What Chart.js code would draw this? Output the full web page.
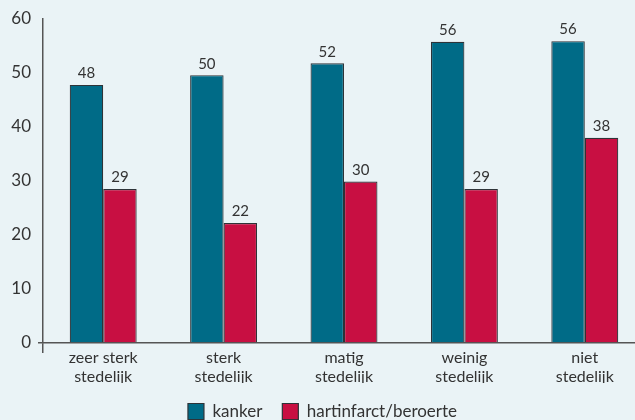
<!DOCTYPE html>
<html>
<head>
<meta charset="utf-8">
<script src="https://cdn.jsdelivr.net/npm/chart.js@4/dist/chart.umd.min.js"></script>
<style>
  html, body { margin: 0; padding: 0; background: #eaf3f6; overflow: hidden; }
  #wrap { width: 650px; height: 432px; position: relative; }
</style>
</head>
<body>
<div id="wrap"><canvas id="chart"></canvas></div>
<script>
const categories = [
  ["zeer sterk", "stedelijk"],
  ["sterk", "stedelijk"],
  ["matig", "stedelijk"],
  ["weinig", "stedelijk"],
  ["niet", "stedelijk"]
];
const kanker = [47.8, 49.6, 51.8, 55.8, 55.9];
const hartinfarct = [28.5, 22.2, 29.9, 28.5, 38.0];
const yTicks = [0, 10, 20, 30, 40, 50, 60];

const TEAL = "#006b87";
const RED = "#c80f42";
const INK = "#333333";
const AXIS = "#555555";
const FONT = "Lato, 'DejaVu Sans', sans-serif";

// draws the rounded value above each bar
const valueLabels = {
  id: "valueLabels",
  afterDatasetsDraw(chart) {
    const ctx = chart.ctx;
    ctx.save();
    ctx.font = "15px " + FONT;
    ctx.fillStyle = INK;
    ctx.textAlign = "center";
    ctx.textBaseline = "bottom";
    chart.data.datasets.forEach((ds, i) => {
      chart.getDatasetMeta(i).data.forEach((bar, j) => {
        ctx.fillText(Math.round(ds.data[j]), bar.x, bar.y - 4);
      });
    });
    ctx.restore();
  }
};

new Chart(document.getElementById("chart").getContext("2d"), {
  type: "bar",
  data: {
    labels: categories,
    datasets: [
      { label: "kanker", data: kanker, backgroundColor: TEAL, borderColor: "#2e3338", borderWidth: 1.2 },
      { label: "hartinfarct/beroerte", data: hartinfarct, backgroundColor: RED, borderColor: "#2e3338", borderWidth: 1.2 }
    ]
  },
  options: {
    responsive: true,
    maintainAspectRatio: false,
    animation: false,
    categoryPercentage: 0.556,
    barPercentage: 1,
    layout: { padding: { top: 19, right: 5, bottom: 2, left: 0 } },
    plugins: {
      legend: {
        position: "bottom",
        labels: { boxWidth: 16, boxHeight: 16, padding: 20, color: INK, font: { family: FONT, size: 17 } }
      },
      tooltip: { enabled: false }
    },
    scales: {
      x: {
        afterFit: (s) => { s.height = 40; },
        grid: {
          drawOnChartArea: false,
          tickLength: 10,
          color: (c) => c.index === 0 ? AXIS : "transparent",
          lineWidth: 1.5
        },
        border: { display: true, color: AXIS, width: 1.5 },
        ticks: { color: INK, padding: -4, font: { family: FONT, size: 16, lineHeight: 1.15 }, maxRotation: 0 }
      },
      y: {
        min: 0,
        max: 60,
        afterFit: (s) => { s.width = 43; },
        afterBuildTicks: (s) => { s.ticks = yTicks.map(v => ({ value: v })); },
        grid: {
          drawOnChartArea: false,
          tickLength: 5,
          color: (c) => c.tick && c.tick.value === 0 ? AXIS : "transparent",
          lineWidth: 1.5
        },
        border: { display: true, color: AXIS, width: 1.5 },
        ticks: { color: INK, padding: 7, font: { family: FONT, size: 17 } }
      }
    }
  },
  plugins: [valueLabels]
});
</script>
</body>
</html>
